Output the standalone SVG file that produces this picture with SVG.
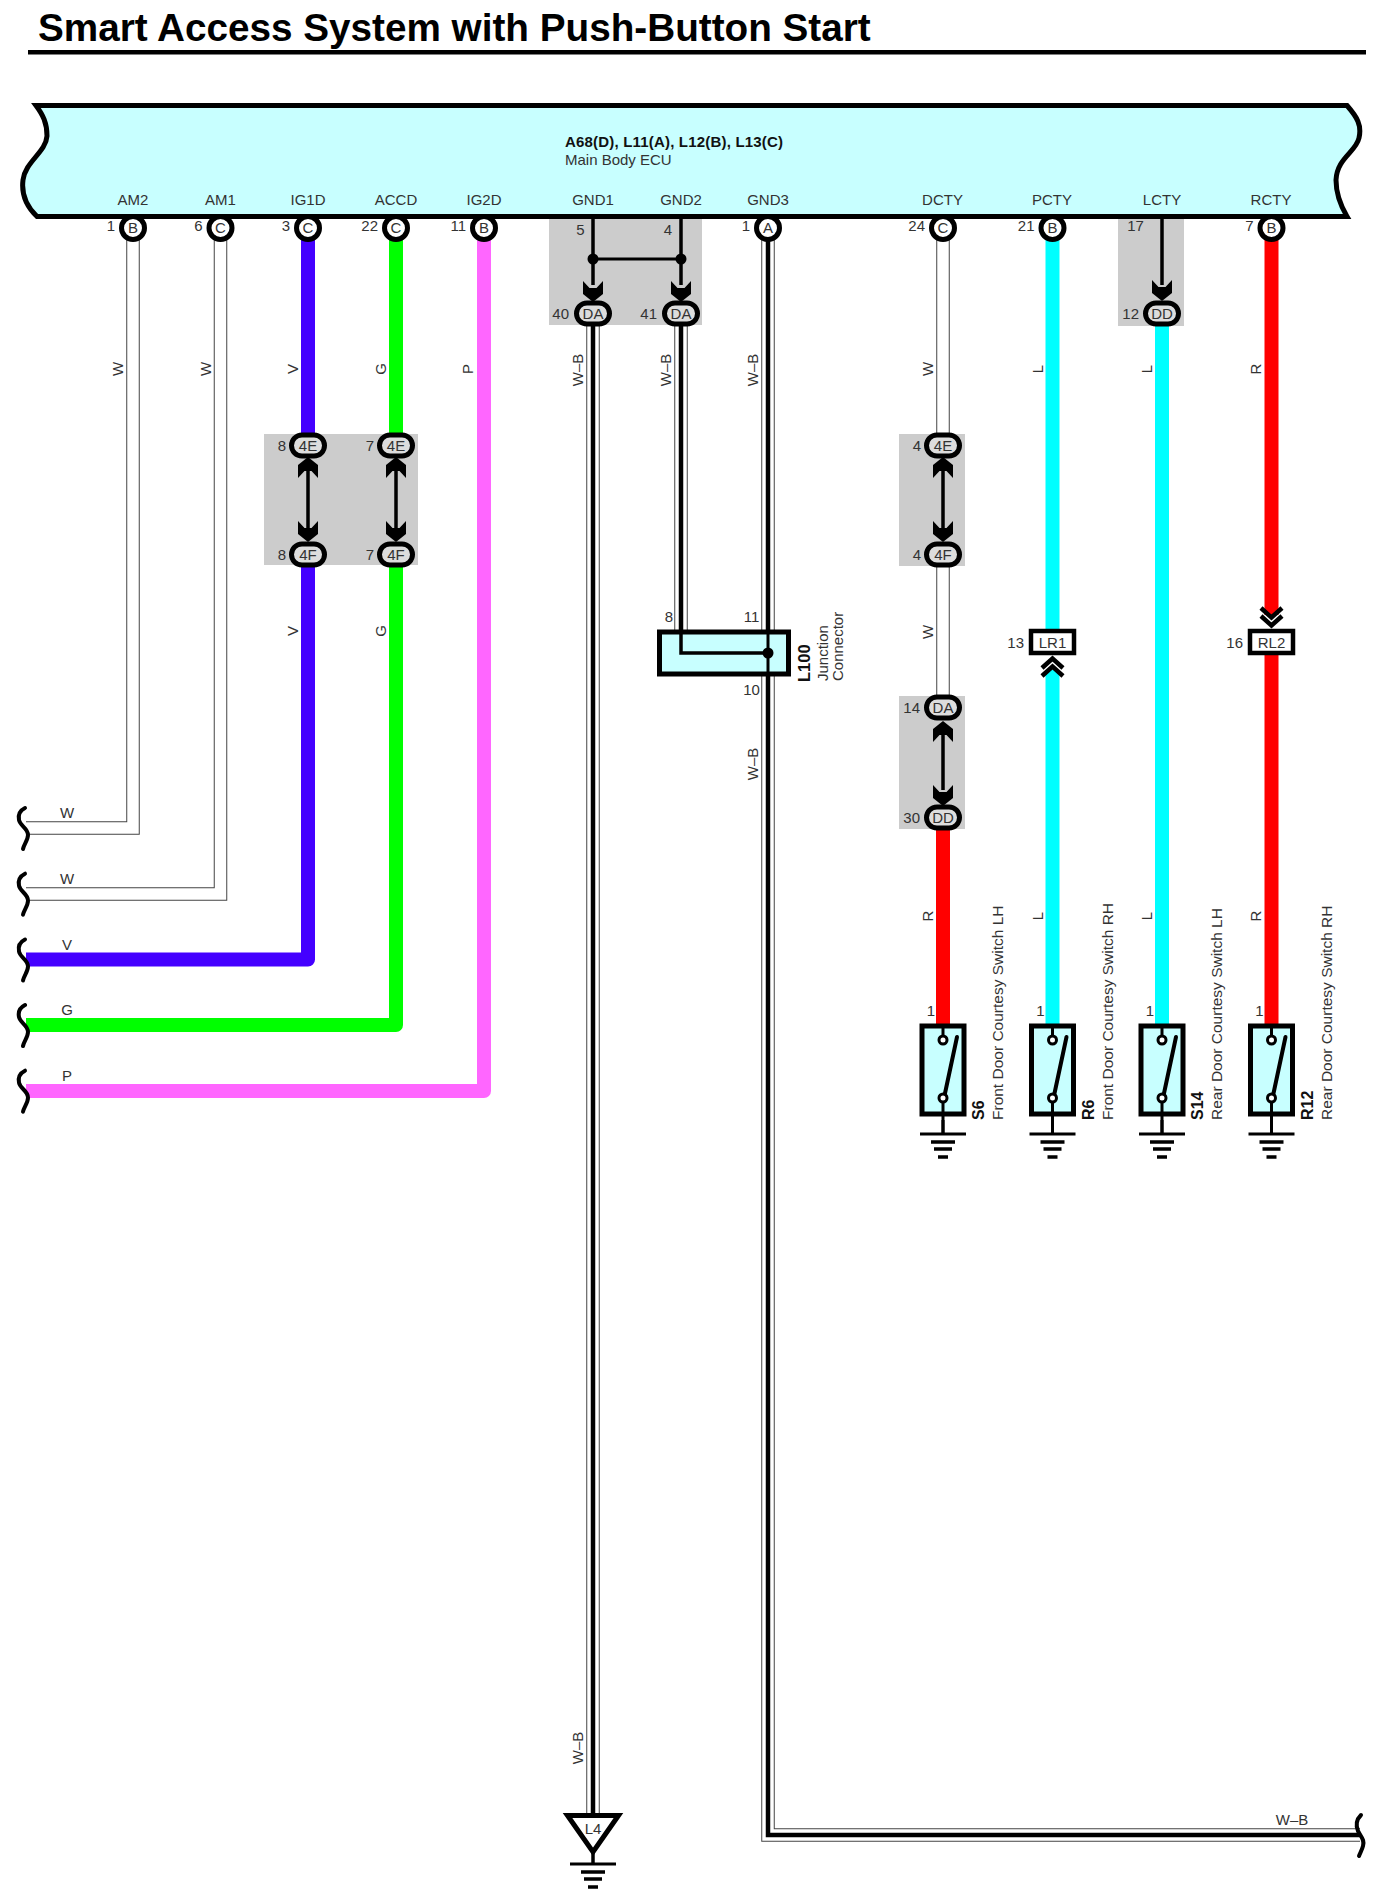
<svg xmlns="http://www.w3.org/2000/svg" width="1385" height="1900" viewBox="0 0 1385 1900">
<style>
text{font-family:"Liberation Sans",Arial,sans-serif;font-size:15px;fill:#333}
.b{font-weight:bold;fill:#111}
.m{text-anchor:middle}
.e{text-anchor:end}
.sw{font-size:15.500px}
.swb{font-size:16px}
.grey{fill:#ccc}
.wo{fill:none;stroke:#444;stroke-width:13.500}
.wi{fill:none;stroke:#fff;stroke-width:11.500}
.wk{fill:none;stroke:#000;stroke-width:4.500}
.c{fill:none;stroke-width:14;stroke-linejoin:round}
.line{fill:none;stroke:#000;stroke-width:3.500}
.thin{fill:none;stroke:#000;stroke-width:3}
.pin{fill:#fff;stroke:#000;stroke-width:5}
.oval{fill:#ddd;stroke:#000;stroke-width:5}
.box{fill:#c8ffff;stroke:#000;stroke-width:5}
.tag{fill:#fff;stroke:#000;stroke-width:4.500}
.chev{fill:none;stroke:#000;stroke-width:4.500}
.brk{fill:none;stroke:#000;stroke-width:4;stroke-linecap:round}
</style>
<defs>
<polygon id="arrow" points="0,0 -10,-8 -10,-21 -3.500,-14 3.500,-14 10,-21 10,-8" fill="#000"/>
<path id="break" class="brk" d="M25 808C19 811 18 815 19 820C20 826 28 828 28 835C28 840 24 844 23 849"/>
<g id="ground">
<path d="M0 0V14" class="thin"/>
<path d="M-23 14H23" class="thin"/>
<path d="M-12 22H12M-9 29H9M-5 37H5" fill="none" stroke="#000" stroke-width="3.500"/>
</g>
<g id="switch">
<rect x="-21" y="0" width="42" height="88" class="box"/>
<path d="M0 0V12" class="thin"/>
<path d="M1 72L14 11" fill="none" stroke="#000" stroke-width="4" stroke-linecap="round"/>
<circle cx="0" cy="14" r="4" fill="#fff" stroke="#000" stroke-width="3"/>
<circle cx="0" cy="72" r="4" fill="#fff" stroke="#000" stroke-width="3"/>
<path d="M0 76V108" class="thin"/>
<use href="#ground" y="94"/>
</g>
</defs>

<g id="title">
<text x="38" y="41" class="b" style="font-size:38.700px;fill:#000">Smart Access System with Push-Button Start</text>
<rect x="28" y="50" width="1338" height="4.500" fill="#000"/>
</g>

<g id="shades">
<rect x="549" y="217" width="153" height="108" class="grey"/>
<rect x="264" y="434" width="154" height="131" class="grey"/>
<rect x="899" y="434" width="66" height="132" class="grey"/>
<rect x="899" y="696" width="66" height="133" class="grey"/>
<rect x="1118" y="217" width="66" height="109" class="grey"/>
</g>

<g id="connectors">
<path class="wo" d="M133 238V828H26"/><path class="wi" d="M133 238V828H26"/>
<path class="wo" d="M220.500 238V894H26"/><path class="wi" d="M220.500 238V894H26"/>
<path class="c" stroke="#4400ff" d="M308 238V433M308 565V959.500H26"/>
<path class="c" stroke="#00ff00" d="M396 238V433M396 565V1025H26"/>
<path class="c" stroke="#ff66ff" d="M484 238V1091H26"/>
<path class="wo" d="M593 326V1814"/><path class="wi" d="M593 326V1814"/><path class="wk" d="M593 326V1814"/>
<path class="wo" d="M681 326V632"/><path class="wi" d="M681 326V632"/><path class="wk" d="M681 326V632"/>
<path class="wo" d="M768 238V1835H1360"/><path class="wi" d="M768 238V1835H1360"/><path class="wk" d="M768 238V1835H1360"/>
<path class="wo" d="M943 238V433M943 566V696"/><path class="wi" d="M943 238V433M943 566V696"/>
<path class="c" stroke="#ff0000" d="M943 829V1024"/>
<path class="c" stroke="#00ffff" d="M1052.500 238V629M1052.500 670V1024"/>
<path class="c" stroke="#00ffff" d="M1162 326V1024"/>
<path class="c" stroke="#ff0000" d="M1271.500 238V615M1271.500 655V1024"/>
<path class="line" d="M593 216V285M681 216V285M1162 216V285"/>
<path class="thin" d="M593 259H681"/>
<path class="line" d="M308 460V540M396 460V540M943 460V540M943 724V790"/>
</g>

<g id="breaks">
<use href="#break"/>
<use href="#break" y="65.700"/>
<use href="#break" y="131.500"/>
<use href="#break" y="197"/>
<use href="#break" y="262.700"/>
<path class="brk" d="M1361 1815C1356 1820 1356 1826 1358 1831C1361 1837 1365 1840 1363 1846C1362 1850 1360 1853 1359 1856"/>
</g>

<g id="wire-labels">
<text transform="translate(122.500 369) rotate(-90)" class="m">W</text>
<text transform="translate(210.500 369) rotate(-90)" class="m">W</text>
<text transform="translate(298 369) rotate(-90)" class="m">V</text>
<text transform="translate(385.500 369) rotate(-90)" class="m">G</text>
<text transform="translate(472.500 369) rotate(-90)" class="m">P</text>
<text transform="translate(583 370) rotate(-90)" class="m">W–B</text>
<text transform="translate(670.500 370) rotate(-90)" class="m">W–B</text>
<text transform="translate(757.500 370) rotate(-90)" class="m">W–B</text>
<text transform="translate(933 369) rotate(-90)" class="m">W</text>
<text transform="translate(1042.500 369) rotate(-90)" class="m">L</text>
<text transform="translate(1152 369) rotate(-90)" class="m">L</text>
<text transform="translate(1261 369) rotate(-90)" class="m">R</text>
<text transform="translate(298 631) rotate(-90)" class="m">V</text>
<text transform="translate(386 631) rotate(-90)" class="m">G</text>
<text transform="translate(933 632) rotate(-90)" class="m">W</text>
<text transform="translate(758 764) rotate(-90)" class="m">W–B</text>
<text transform="translate(933 916) rotate(-90)" class="m">R</text>
<text transform="translate(1042.500 916) rotate(-90)" class="m">L</text>
<text transform="translate(1152 916) rotate(-90)" class="m">L</text>
<text transform="translate(1261 916) rotate(-90)" class="m">R</text>
<text transform="translate(583 1748) rotate(-90)" class="m">W–B</text>
<text x="67" y="817.500" class="m">W</text>
<text x="67" y="883.500" class="m">W</text>
<text x="67" y="949.500" class="m">V</text>
<text x="67" y="1014.500" class="m">G</text>
<text x="67" y="1080.500" class="m">P</text>
<text x="1292" y="1825" class="m">W–B</text>
</g>

<g id="main-body-ecu">
<path class="box" d="M36 105.500H1347C1357 117 1362 125 1359 138C1356 152 1337 158 1336 180C1336 196 1342 208 1347 216.500H37C28 208 21 196 23 180C25 162 46 152 47 136C47 123 43 115 36 105.500Z"/>
<text x="565" y="146.500" class="b" textLength="218">A68(D), L11(A), L12(B), L13(C)</text>
<text x="565" y="165">Main Body ECU</text>
<text x="133" y="205" class="m">AM2</text>
<text x="220.500" y="205" class="m">AM1</text>
<text x="308" y="205" class="m">IG1D</text>
<text x="396" y="205" class="m">ACCD</text>
<text x="484" y="205" class="m">IG2D</text>
<text x="593" y="205" class="m">GND1</text>
<text x="681" y="205" class="m">GND2</text>
<text x="768" y="205" class="m">GND3</text>
<text x="942.500" y="205" class="m">DCTY</text>
<text x="1052" y="205" class="m">PCTY</text>
<text x="1162" y="205" class="m">LCTY</text>
<text x="1271" y="205" class="m">RCTY</text>
</g>

<g id="pins">
<circle cx="133" cy="228" r="11.500" class="pin"/><text x="133" y="233" class="m">B</text><text x="115" y="231" class="e">1</text>
<circle cx="220.500" cy="228" r="11.500" class="pin"/><text x="220.500" y="233" class="m">C</text><text x="202.500" y="231" class="e">6</text>
<circle cx="308" cy="228" r="11.500" class="pin"/><text x="308" y="233" class="m">C</text><text x="290" y="231" class="e">3</text>
<circle cx="396" cy="228" r="11.500" class="pin"/><text x="396" y="233" class="m">C</text><text x="378" y="231" class="e">22</text>
<circle cx="484" cy="228" r="11.500" class="pin"/><text x="484" y="233" class="m">B</text><text x="466" y="231" class="e">11</text>
<circle cx="768" cy="228" r="11.500" class="pin"/><text x="768" y="233" class="m">A</text><text x="750" y="231" class="e">1</text>
<circle cx="943" cy="228" r="11.500" class="pin"/><text x="943" y="233" class="m">C</text><text x="925" y="231" class="e">24</text>
<circle cx="1052.500" cy="228" r="11.500" class="pin"/><text x="1052.500" y="233" class="m">B</text><text x="1034.500" y="231" class="e">21</text>
<circle cx="1271.500" cy="228" r="11.500" class="pin"/><text x="1271.500" y="233" class="m">B</text><text x="1253.500" y="231" class="e">7</text>
<text x="580.500" y="235" class="m">5</text>
<text x="668" y="235" class="m">4</text>
<text x="1135.500" y="231" class="m">17</text>
</g>

<g id="splices">
<circle cx="593" cy="259" r="5.500"/>
<circle cx="681" cy="259" r="5.500"/>
<use href="#arrow" x="593" y="302"/>
<use href="#arrow" x="681" y="302"/>
<use href="#arrow" x="1162" y="301"/>
<use href="#arrow" x="308" y="542"/>
<use href="#arrow" x="396" y="542"/>
<use href="#arrow" x="943" y="542"/>
<use href="#arrow" x="943" y="806"/>
<use href="#arrow" transform="translate(308 457) scale(1 -1)"/>
<use href="#arrow" transform="translate(396 457) scale(1 -1)"/>
<use href="#arrow" transform="translate(943 457) scale(1 -1)"/>
<use href="#arrow" transform="translate(943 721) scale(1 -1)"/>
</g>

<g id="connector-ovals">
<rect x="576.500" y="303" width="33" height="21" rx="10.500" class="oval"/><text x="593" y="318.500" class="m">DA</text><text x="569" y="318.500" class="e">40</text>
<rect x="664.500" y="303" width="33" height="21" rx="10.500" class="oval"/><text x="681" y="318.500" class="m">DA</text><text x="657" y="318.500" class="e">41</text>
<rect x="1145.500" y="303" width="33" height="21" rx="10.500" class="oval"/><text x="1162" y="318.500" class="m">DD</text><text x="1139" y="318.500" class="e">12</text>
<rect x="291.500" y="435" width="33" height="21" rx="10.500" class="oval"/><text x="308" y="450.500" class="m">4E</text><text x="286" y="450.500" class="e">8</text>
<rect x="379.500" y="435" width="33" height="21" rx="10.500" class="oval"/><text x="396" y="450.500" class="m">4E</text><text x="374" y="450.500" class="e">7</text>
<rect x="926.500" y="435" width="33" height="21" rx="10.500" class="oval"/><text x="943" y="450.500" class="m">4E</text><text x="921" y="450.500" class="e">4</text>
<rect x="291.500" y="544" width="33" height="21" rx="10.500" class="oval"/><text x="308" y="559.500" class="m">4F</text><text x="286" y="559.500" class="e">8</text>
<rect x="379.500" y="544" width="33" height="21" rx="10.500" class="oval"/><text x="396" y="559.500" class="m">4F</text><text x="374" y="559.500" class="e">7</text>
<rect x="926.500" y="544" width="33" height="21" rx="10.500" class="oval"/><text x="943" y="559.500" class="m">4F</text><text x="921" y="559.500" class="e">4</text>
<rect x="926.500" y="697" width="33" height="21" rx="10.500" class="oval"/><text x="943" y="712.500" class="m">DA</text><text x="920" y="712.500" class="e">14</text>
<rect x="926.500" y="807" width="33" height="21" rx="10.500" class="oval"/><text x="943" y="822.500" class="m">DD</text><text x="920" y="822.500" class="e">30</text>
</g>

<g id="L100">
<rect x="659.500" y="632" width="129" height="42" class="box"/>
<path class="line" d="M681 632V653H768"/>
<path class="thin" d="M768 632V674"/>
<circle cx="768" cy="653" r="5.500"/>
<text x="669" y="621.500" class="m">8</text>
<text x="751.500" y="621.500" class="m">11</text>
<text x="751.500" y="695" class="m">10</text>
<text transform="translate(810 682) rotate(-90)" class="b" style="font-size:16.500px">L100</text>
<text transform="translate(828 681) rotate(-90)">Junction</text>
<text transform="translate(843 681) rotate(-90)">Connector</text>
</g>

<g id="LR1">
<rect x="1031" y="631" width="43" height="22" class="tag"/>
<text x="1052.500" y="647.500" class="m">LR1</text>
<text x="1024" y="647.500" class="e">13</text>
<path class="chev" d="M1042 668L1052.500 658.500L1063 668M1042 676L1052.500 666.500L1063 676"/>
</g>
<g id="RL2">
<rect x="1250" y="631" width="43" height="22" class="tag"/>
<text x="1271.500" y="647.500" class="m">RL2</text>
<text x="1243" y="647.500" class="e">16</text>
<path class="chev" d="M1261 608L1271.500 617.500L1282 608M1261 616L1271.500 625.500L1282 616"/>
</g>

<g id="S6">
<use href="#switch" x="943" y="1026"/>
<text x="931" y="1016" class="m">1</text>
<text transform="translate(984 1120) rotate(-90)" class="b swb">S6</text>
<text transform="translate(1003 1120) rotate(-90)" class="sw">Front Door Courtesy Switch LH</text>
</g>
<g id="R6">
<use href="#switch" x="1052.500" y="1026"/>
<text x="1040.500" y="1016" class="m">1</text>
<text transform="translate(1093.500 1120) rotate(-90)" class="b swb">R6</text>
<text transform="translate(1112.500 1120) rotate(-90)" class="sw">Front Door Courtesy Switch RH</text>
</g>
<g id="S14">
<use href="#switch" x="1162" y="1026"/>
<text x="1150" y="1016" class="m">1</text>
<text transform="translate(1203 1120) rotate(-90)" class="b swb">S14</text>
<text transform="translate(1222 1120) rotate(-90)" class="sw">Rear Door Courtesy Switch LH</text>
</g>
<g id="R12">
<use href="#switch" x="1271.500" y="1026"/>
<text x="1259.500" y="1016" class="m">1</text>
<text transform="translate(1312.500 1120) rotate(-90)" class="b swb">R12</text>
<text transform="translate(1331.500 1120) rotate(-90)" class="sw">Rear Door Courtesy Switch RH</text>
</g>

<g id="L4">
<path d="M593 1852V1864" class="thin"/>
<polygon points="567.500,1815.500 618.500,1815.500 593,1852" fill="#fff" stroke="#000" stroke-width="5"/>
<text x="593" y="1833.500" class="m">L4</text>
<use href="#ground" x="593" y="1850"/>
</g>
</svg>
